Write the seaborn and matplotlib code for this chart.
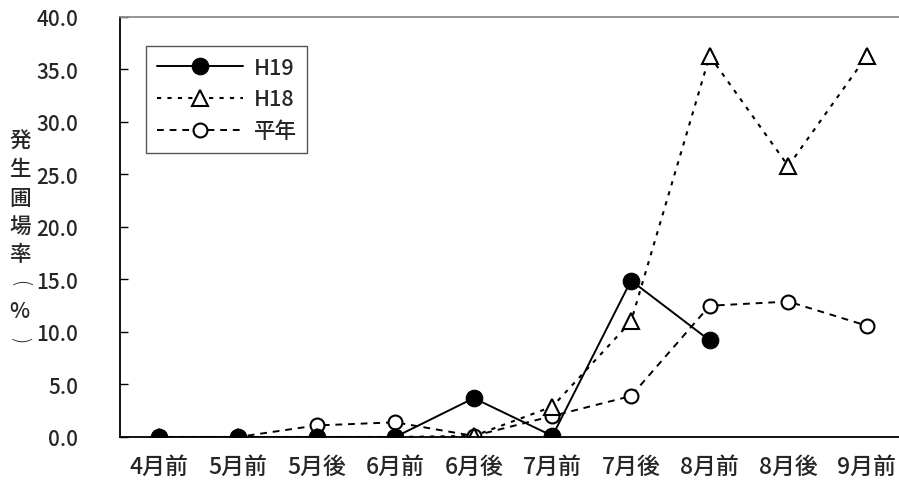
import matplotlib
matplotlib.use("Agg")
import matplotlib.pyplot as plt
import seaborn as sns
import numpy as np
import pandas as pd
from matplotlib.ticker import FixedLocator

# 時期区分
periods = ["4月前", "5月前", "5月後", "6月前", "6月後", "7月前", "7月後", "8月前", "8月後", "9月前"]

# 発生圃場率（%）
h19 = [0.0, 0.0, 0.0, 0.0, 3.7, 0.1, 14.9, 9.2, np.nan, np.nan]
h18 = [0.0, 0.0, 0.0, 0.0, 0.1, 2.9, 11.0, 36.3, 25.8, 36.3]
heinen = [0.0, 0.0, 1.1, 1.4, 0.1, 2.0, 3.9, 12.5, 12.9, 10.6]

yticks = [0.0, 5.0, 10.0, 15.0, 20.0, 25.0, 30.0, 35.0, 40.0]
ylabel_text = "発生圃場率(%)"

sns.set_style("white")
plt.rcParams["font.family"] = ["Noto Sans CJK JP", "DejaVu Sans"]
plt.rcParams["font.weight"] = "medium"

df = pd.DataFrame({
    "pos": np.arange(len(periods)),
    "H19": h19,
    "H18": h18,
    "平年": heinen,
})

fig = plt.figure(figsize=(8.99, 4.89), dpi=100)
ax = fig.add_axes([0.1335, 0.1043, 0.8745, 0.8589])

sns.lineplot(data=df, x="pos", y="平年", ax=ax, color="black", linewidth=1.4,
             linestyle=(0, (3.5, 3.0)), marker="o", markersize=10,
             markerfacecolor="white", markeredgecolor="black", markeredgewidth=1.5,
             label="平年")
sns.lineplot(data=df, x="pos", y="H18", ax=ax, color="black", linewidth=1.5,
             linestyle=(0, (2.0, 3.0)), marker="^", markersize=12,
             markerfacecolor="white", markeredgecolor="black", markeredgewidth=1.5,
             label="H18")
sns.lineplot(data=df.dropna(subset=["H19"]), x="pos", y="H19", ax=ax, color="black",
             linewidth=1.4, linestyle="-", marker="o", markersize=12,
             markerfacecolor="black", markeredgecolor="black", label="H19")

ax.set_xlim(-0.5, len(periods) - 0.5)
ax.set_ylim(0, 40)

ax.set_xticks(np.arange(len(periods)))
ax.set_xticklabels(periods)
ax.xaxis.set_minor_locator(FixedLocator(np.arange(0.5, len(periods) - 0.5, 1.0)))
ax.tick_params(axis="x", which="major", length=0, pad=13, labelsize=16.5)
ax.tick_params(axis="x", which="minor", direction="in", length=6, width=1, color="black")

ax.set_yticks(yticks)
ax.set_yticklabels([f"{v:.1f}" for v in yticks])
ax.tick_params(axis="y", which="major", direction="in", length=6, width=1,
               color="black", pad=30, labelsize=15)
ax.tick_params(left=True, bottom=True)

ax.set_xlabel("")
ax.set_ylabel("")

# 縦書きの軸ラベル（括弧は横向きに回転）
label_top = 1 - 142 / 489
label_step = 28.3 / 489
for i, ch in enumerate(ylabel_text):
    rot = -90 if ch in "()" else 0
    size = 14 if ch in "()" else 15.5
    fig.text(0.022, label_top - i * label_step, ch, fontsize=size, rotation=rot,
             ha="center", va="center", fontweight="light" if rot else "medium")

for side in ["left", "bottom"]:
    ax.spines[side].set_color("black")
    ax.spines[side].set_linewidth(1.3)
ax.spines["top"].set_color("#8c8c8c")
ax.spines["top"].set_linewidth(1.3)
ax.spines["right"].set_visible(False)

handles, labels = ax.get_legend_handles_labels()
order = [labels.index(k) for k in ["H19", "H18", "平年"]]
leg = ax.legend([handles[i] for i in order], [labels[i] for i in order],
                loc="upper left", bbox_to_anchor=(0.033, 0.931), borderaxespad=0,
                fontsize=15.5, handlelength=4.0, handletextpad=0.5, labelspacing=0.45,
                borderpad=0.5, fancybox=False, framealpha=1, edgecolor="#555555")
leg.get_frame().set_linewidth(1.0)

fig.savefig("out.png", dpi=100)
